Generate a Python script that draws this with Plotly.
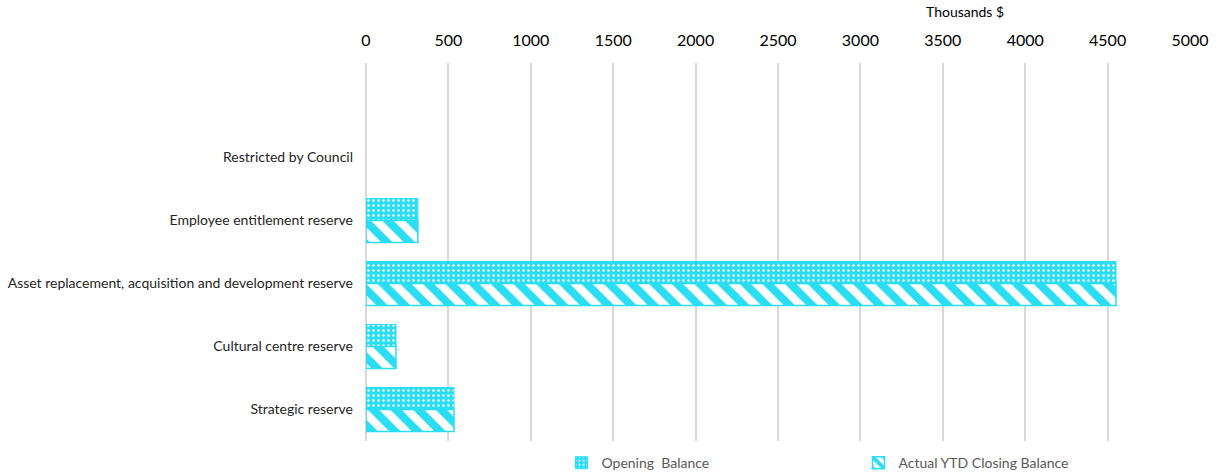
import plotly.graph_objects as go

categories = ["Restricted by Council", "Employee entitlement reserve",
              "Asset replacement, acquisition and development reserve",
              "Cultural centre reserve", "Strategic reserve"]
opening_balance = [None, 315, 4551, 182, 534]
closing_balance = [None, 315, 4551, 182, 534]
x_ticks = [0, 500, 1000, 1500, 2000, 2500, 3000, 3500, 4000, 4500, 5000]

CYAN = "#2ADDF2"

fig = go.Figure()
fig.add_trace(go.Bar(
    y=categories, x=opening_balance, orientation="h", name="Opening  Balance",
    marker=dict(color=CYAN, line=dict(color=CYAN, width=1),
                pattern=dict(shape=".", fgcolor="white", bgcolor=CYAN, size=5, solidity=0.18,
                             fgopacity=1, fillmode="overlay")),
))
fig.add_trace(go.Bar(
    y=categories, x=closing_balance, orientation="h", name="Actual YTD Closing Balance",
    marker=dict(color="white", line=dict(color=CYAN, width=1.5),
                pattern=dict(shape="\\", fgcolor=CYAN, bgcolor="white", size=16, solidity=0.5,
                             fgopacity=1, fillmode="overlay")),
))

fig.update_layout(
    width=1218, height=475,
    margin=dict(l=366, r=28, t=63, b=34, autoexpand=False),
    paper_bgcolor="white", plot_bgcolor="white",
    barmode="group", bargap=0.3, bargroupgap=0,
    font=dict(family="Lato, Open Sans, sans-serif", color="#404040"),
    xaxis=dict(side="top", range=[0, 5000], tickvals=x_ticks, showgrid=True,
               gridcolor="#D9D9D9", gridwidth=2, zeroline=True, zerolinecolor="#D9D9D9",
               zerolinewidth=2, tickfont=dict(size=16, color="#000000"), ticks="",
               ticklabelstandoff=13, showline=False, automargin=False),
    yaxis=dict(type="category", categoryorder="array", categoryarray=categories,
               range=[4.5, -1.5], showgrid=False, ticks="", ticklen=0,
               ticklabelstandoff=12, automargin=False,
               tickfont=dict(size=14, color="#262626"), showline=False),
    legend=dict(orientation="h", x=0.461, y=0.025, xref="container", yref="container",
                xanchor="left", yanchor="middle",
                entrywidth=252, entrywidthmode="pixels",
                font=dict(size=14, color="#595959"), traceorder="normal"),
    annotations=[dict(text="Thousands $", xref="paper", yref="paper", x=0.727, y=1.135,
                      showarrow=False, font=dict(size=14, color="#000000"),
                      xanchor="center", yanchor="middle")],
)

fig.write_html("out.html")
